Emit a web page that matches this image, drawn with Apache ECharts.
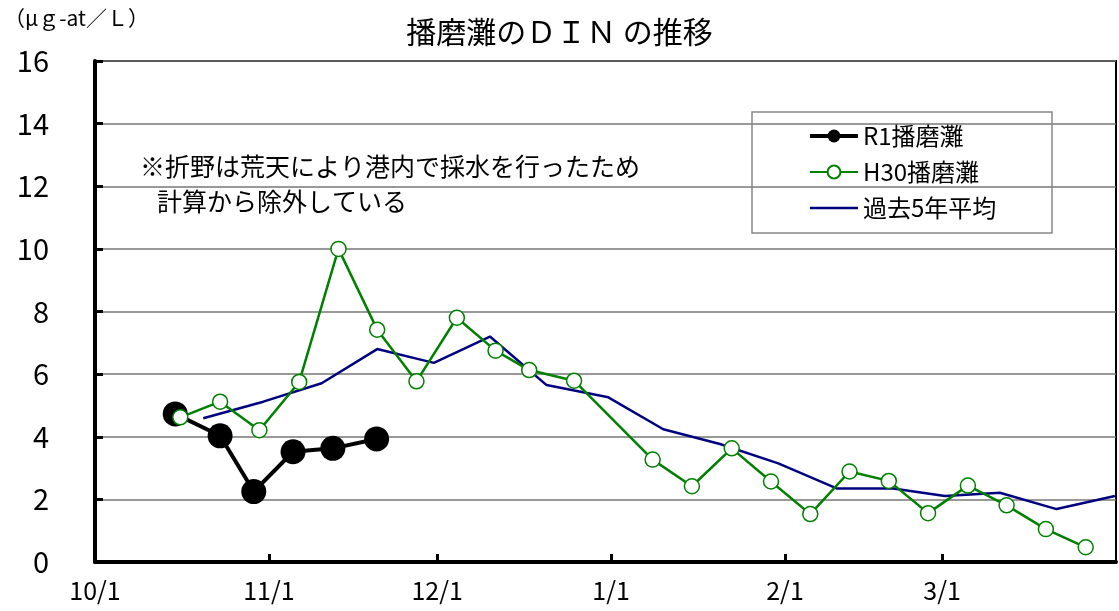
<!DOCTYPE html>
<html>
<head>
<meta charset="utf-8">
<script src="https://cdn.jsdelivr.net/npm/echarts@6/dist/echarts.min.js"></script>
<style>
    html, body { margin: 0; padding: 0; background: #fff; }
    #chart { width: 1119px; height: 611px; }
</style>
</head>
<body>
<div id="chart"></div>
<script>
// x は 10/1 からの日数
const tickDays = [0, 31, 61, 92, 123, 151]
const tickLabels = ['10/1', '11/1', '12/1', '1/1', '2/1', '3/1']

const r1Days = [14.3, 22.3, 28.3, 35.3, 42.4, 50.2]
const r1Values = [4.73, 4.03, 2.25, 3.52, 3.63, 3.93]

const h30Days = [15.2, 22.3, 29.3, 36.4, 43.4, 50.3, 57.3, 64.5, 71.4, 77.4, 85.4, 99.4,
    106.4, 113.5, 120.5, 127.5, 134.5, 141.5, 148.5, 155.6, 162.5, 169.5, 176.6]
const h30Values = [4.62, 5.12, 4.21, 5.75, 10.0, 7.42, 5.77, 7.80, 6.75, 6.13, 5.79, 3.27,
    2.42, 3.63, 2.57, 1.53, 2.89, 2.59, 1.56, 2.44, 1.81, 1.05, 0.47]

const avgDays = [19.3, 30, 40.4, 50.3, 60.4, 70.4, 80.5, 91.5, 101.3, 111.4, 121.8,
    132.2, 142.3, 151.5, 161.3, 171.4, 181.8]
const avgValues = [4.59, 5.12, 5.71, 6.80, 6.36, 7.20, 5.65, 5.26, 4.24, 3.77, 3.15,
    2.35, 2.35, 2.11, 2.21, 1.69, 2.11]

const FONT = '"Noto Sans CJK JP", "Noto Sans", sans-serif'

function pairs(xs, ys){
    return xs.map((x, i) => [x, ys[i]])
}

let myChart = echarts.init(document.getElementById('chart'), null, {renderer: 'canvas'})
let option = {
    animation: false,
    backgroundColor: '#fff',
    textStyle: { fontFamily: FONT, color: '#000' },
    title: {
        text: '播磨灘のＤＩＮ の推移',
        left: 'center',
        top: 12,
        textStyle: { fontFamily: FONT, fontSize: 30, fontWeight: 'normal', color: '#000' }
    },
    grid: {
        left: 95, right: 3, top: 61, bottom: 49,
        show: true,
        borderColor: '#000',
        borderWidth: 2
    },
    legend: {
        orient: 'vertical',
        left: 803,
        top: 119,
        itemWidth: 48,
        itemHeight: 16,
        itemGap: 12,
        textStyle: { fontFamily: FONT, fontSize: 24, color: '#000' },
        data: [
            { name: 'R1播磨灘', lineStyle: { width: 4, color: '#000' } },
            { name: 'H30播磨灘', lineStyle: { width: 2, color: '#008000' } },
            { name: '過去5年平均', itemStyle: { opacity: 0 }, lineStyle: { width: 2.5, color: '#000080' } }
        ]
    },
    graphic: [
        {
            type: 'rect',
            shape: { x: 752, y: 112, width: 300, height: 121 },
            style: { fill: 'none', stroke: '#888', lineWidth: 1.5 },
            z: 5
        },
        {
            type: 'text',
            left: 4, top: 8,
            style: { text: '（μｇ-at／Ｌ）', font: '21px ' + FONT, fill: '#000' }
        },
        {
            type: 'text',
            left: 140, top: 154,
            style: { text: '※折野は荒天により港内で採水を行ったため', font: '25px ' + FONT, fill: '#000' }
        },
        {
            type: 'text',
            left: 157, top: 189,
            style: { text: '計算から除外している', font: '25px ' + FONT, fill: '#000' }
        }
    ],
    xAxis: {
        type: 'value',
        min: 0,
        max: 182,
        axisLine: { show: true, lineStyle: { color: '#000', width: 4 } },
        axisTick: {
            show: true,
            inside: true,
            length: 8,
            lineStyle: { color: '#000', width: 3 },
            customValues: tickDays
        },
        axisLabel: {
            fontFamily: FONT,
            fontSize: 25,
            color: '#000',
            margin: 16,
            customValues: tickDays,
            formatter: function(v){
                let i = tickDays.indexOf(v)
                return i >= 0 ? tickLabels[i] : ''
            }
        },
        splitLine: { show: false }
    },
    yAxis: {
        type: 'value',
        min: 0,
        max: 16,
        interval: 2,
        axisLine: { show: true, lineStyle: { color: '#000', width: 4 } },
        axisTick: { show: true, inside: true, length: 8, lineStyle: { color: '#000', width: 3 } },
        axisLabel: { fontFamily: FONT, fontSize: 29, color: '#000', margin: 46 },
        splitLine: { show: true, lineStyle: { color: '#777', width: 1.5 } }
    },
    series: [
        {
            name: 'R1播磨灘',
            type: 'line',
            data: pairs(r1Days, r1Values),
            symbol: 'circle',
            symbolSize: 25,
            itemStyle: { color: '#000' },
            lineStyle: { color: '#000', width: 4 }
        },
        {
            name: '過去5年平均',
            type: 'line',
            data: pairs(avgDays, avgValues),
            symbol: 'none',
            itemStyle: { color: '#000080' },
            lineStyle: { color: '#000080', width: 2.5 }
        },
        {
            name: 'H30播磨灘',
            type: 'line',
            data: pairs(h30Days, h30Values),
            symbol: 'circle',
            symbolSize: 15,
            itemStyle: { color: '#fff', borderColor: '#008000', borderWidth: 1.5 },
            lineStyle: { color: '#008000', width: 2.5 }
        }
    ]
}
myChart.setOption(option)
</script>
</body>
</html>
